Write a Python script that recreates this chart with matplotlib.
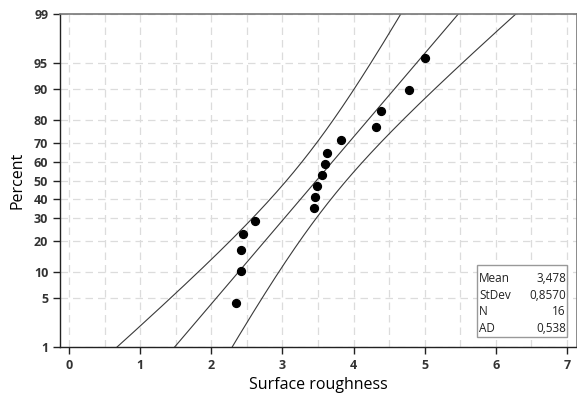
import numpy as np
import matplotlib
matplotlib.use("Agg")
import matplotlib.pyplot as plt
from matplotlib.patches import Rectangle
from statistics import NormalDist

# data
roughness = [2.35, 2.42, 2.42, 2.44, 2.61, 3.44, 3.46, 3.48, 3.56, 3.60,
             3.62, 3.82, 4.31, 4.39, 4.78, 5.00]
percent = [4.3, 10.4, 16.5, 22.6, 28.7, 34.8, 40.9, 47.0, 53.0, 59.1,
           65.2, 71.3, 77.4, 83.5, 89.6, 95.7]
y_ticks = [1, 5, 10, 20, 30, 40, 50, 60, 70, 80, 90, 95, 99]
x_ticks = [0, 1, 2, 3, 4, 5, 6, 7]
stat_names = ["Mean", "StDev", "N", "AD"]
stat_values = ["3,478", "0,8570", "16", "0,538"]
mean, sd, n = 3.478, 0.8570, 16

plt.rcParams['font.family'] = ['Open Sans', 'DejaVu Sans']

nd = NormalDist()
_ppf = np.vectorize(lambda p: nd.inv_cdf(min(max(p / 100.0, 1e-9), 1 - 1e-9)),
                    otypes=[float])
_cdf = np.vectorize(lambda z: nd.cdf(z) * 100.0, otypes=[float])


def forward(p):
    return _ppf(np.asarray(p, dtype=float))


def inverse(z):
    return _cdf(np.asarray(z, dtype=float))


fig = plt.figure(figsize=(5.77, 3.96), dpi=100)
ax = fig.add_axes([60 / 577, 49 / 396, 517 / 577, 333 / 396])
ax.set_yscale('function', functions=(forward, inverse))

# fitted line and 95% confidence bands (normal, ML)
p = np.linspace(0.5, 99.5, 400)
z = forward(p)
fit = mean + z * sd
half = 1.96 * np.sqrt(sd ** 2 / n * (1 + z ** 2 / 2))
for xs in (fit, fit - half, fit + half):
    ax.plot(xs, p, color='#3a3a3a', lw=0.8, zorder=2)

ax.scatter(roughness, percent, s=32, color='black', zorder=3)

ax.set_xlim(-0.127, 7.14)
ax.set_ylim(1, 99)
ax.set_yticks(y_ticks)
ax.set_yticklabels([str(t) for t in y_ticks])
ax.set_xticks(x_ticks)
ax.set_xticks(np.arange(0.5, 7.1, 1.0), minor=True)
ax.tick_params(axis='x', which='minor', length=0)
ax.yaxis.set_minor_locator(matplotlib.ticker.NullLocator())

ax.grid(True, which='both', color='#dcdcdc', linestyle=(0, (6, 4)), lw=0.9)
ax.set_axisbelow(True)

ax.tick_params(axis='both', which='major', direction='out', length=5,
               width=1, color='#222222', labelsize=9, labelcolor='#333333')
for lab in ax.get_xticklabels() + ax.get_yticklabels():
    lab.set_fontweight('bold')

for side in ['left', 'bottom']:
    ax.spines[side].set_color('#222222')
    ax.spines[side].set_linewidth(1.0)
for side in ['top', 'right']:
    ax.spines[side].set_color('#777777')
    ax.spines[side].set_linewidth(1.2)

ax.set_xlabel("Surface roughness", fontsize=11.5, labelpad=4)
ax.set_ylabel("Percent", fontsize=11.5, labelpad=6)

# statistics box
box = Rectangle((477 / 577, 1 - 337 / 396), 90 / 577, 72 / 396,
                transform=fig.transFigure, facecolor='white',
                edgecolor='#999999', lw=1.0, zorder=5)
fig.patches.append(box)
rows_y = [278, 295.5, 311.5, 329]
for name, val, yy in zip(stat_names, stat_values, rows_y):
    fig.text(479 / 577, 1 - yy / 396, name, fontsize=8.5, va='center',
             ha='left', color='#222222', zorder=6)
    fig.text(566 / 577, 1 - yy / 396, val, fontsize=8.5, va='center',
             ha='right', color='#222222', zorder=6)

fig.savefig("out.png", dpi=100)
